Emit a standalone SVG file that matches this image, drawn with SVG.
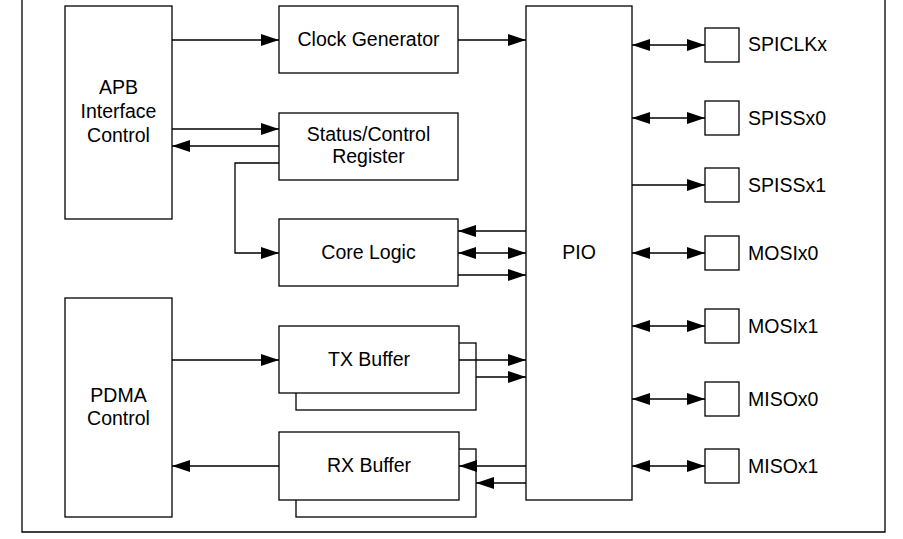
<svg xmlns="http://www.w3.org/2000/svg" width="903" height="539" viewBox="0 0 903 539">
<style>
.b{fill:#fff;stroke:#000;stroke-width:1.3}
.t{font-family:"Liberation Sans",Arial,sans-serif;font-size:19.5px;fill:#000;text-anchor:middle}
.l{font-family:"Liberation Sans",Arial,sans-serif;font-size:19.5px;fill:#000}
.c{fill:none;stroke:#000;stroke-width:1.3}
.a1{marker-end:url(#ah)}
.a2{marker-start:url(#ah);marker-end:url(#ah)}
</style>
<defs>
<marker id="ah" markerUnits="userSpaceOnUse" markerWidth="18" markerHeight="12" refX="18" refY="6" orient="auto-start-reverse" viewBox="0 0 18 12">
<path d="M0,0 L18,6 L0,12 z" fill="#000"/>
</marker>
</defs>
<path class="c" d="M22,0 V532 H885 V0"/>
<g id="apb"><rect class="b" x="65" y="6" width="107" height="213"/>
<text class="t" x="118.5" y="94">APB</text><text class="t" x="118.5" y="118">Interface</text><text class="t" x="118.5" y="142">Control</text></g>
<g id="pdma"><rect class="b" x="65" y="298" width="107" height="219"/>
<text class="t" x="118.5" y="402">PDMA</text><text class="t" x="118.5" y="425">Control</text></g>
<g id="clk"><rect class="b" x="279" y="6" width="179" height="67"/>
<text class="t" x="368.5" y="46">Clock Generator</text></g>
<g id="scr"><rect class="b" x="279" y="113" width="179" height="67"/>
<text class="t" x="368.5" y="141">Status/Control</text><text class="t" x="368.5" y="163">Register</text></g>
<g id="core"><rect class="b" x="279" y="219" width="179" height="67"/>
<text class="t" x="368.5" y="259">Core Logic</text></g>
<g id="tx"><rect class="b" x="296" y="343" width="180" height="67"/><rect class="b" x="279" y="326" width="180" height="67"/>
<text class="t" x="369" y="366">TX Buffer</text></g>
<g id="rx"><rect class="b" x="296" y="449" width="180" height="68"/><rect class="b" x="279" y="432" width="180" height="68"/>
<text class="t" x="369" y="472">RX Buffer</text></g>
<g id="pio"><rect class="b" x="526" y="6" width="106" height="494"/>
<text class="t" x="579" y="259">PIO</text></g>
<g id="p1"><rect class="b" x="705" y="28" width="34" height="34"/><text class="l" x="748" y="51">SPICLKx</text></g>
<g id="p2"><rect class="b" x="705" y="101" width="34" height="34"/><text class="l" x="748" y="125">SPISSx0</text></g>
<g id="p3"><rect class="b" x="705" y="168" width="34" height="34"/><text class="l" x="748" y="192">SPISSx1</text></g>
<g id="p4"><rect class="b" x="705" y="236" width="34" height="34"/><text class="l" x="748" y="260">MOSIx0</text></g>
<g id="p5"><rect class="b" x="705" y="309" width="34" height="34"/><text class="l" x="748" y="333">MOSIx1</text></g>
<g id="p6"><rect class="b" x="705" y="382" width="34" height="34"/><text class="l" x="748" y="406">MISOx0</text></g>
<g id="p7"><rect class="b" x="705" y="449" width="34" height="34"/><text class="l" x="748" y="473">MISOx1</text></g>
<g id="connectors">
<path class="c a1" d="M172,40 H279"/>
<path class="c a1" d="M458,40 H526"/>
<path class="c a1" d="M172,129 H279"/>
<path class="c a1" d="M279,146 H172"/>
<path class="c a1" d="M279,163 H235 V253 H279"/>
<path class="c a1" d="M526,231 H458"/>
<path class="c a2" d="M458,253 H526"/>
<path class="c a1" d="M458,275 H526"/>
<path class="c a1" d="M172,360 H279"/>
<path class="c a1" d="M459,360 H526"/>
<path class="c a1" d="M476,377 H526"/>
<path class="c a1" d="M279,466 H172"/>
<path class="c a1" d="M526,466 H459"/>
<path class="c a1" d="M526,483 H476"/>
<path class="c a2" d="M632,45 H705"/>
<path class="c a2" d="M632,118 H705"/>
<path class="c a1" d="M632,185 H705"/>
<path class="c a2" d="M632,253 H705"/>
<path class="c a2" d="M632,326 H705"/>
<path class="c a2" d="M632,399 H705"/>
<path class="c a2" d="M632,466 H705"/>
</g>
</svg>
